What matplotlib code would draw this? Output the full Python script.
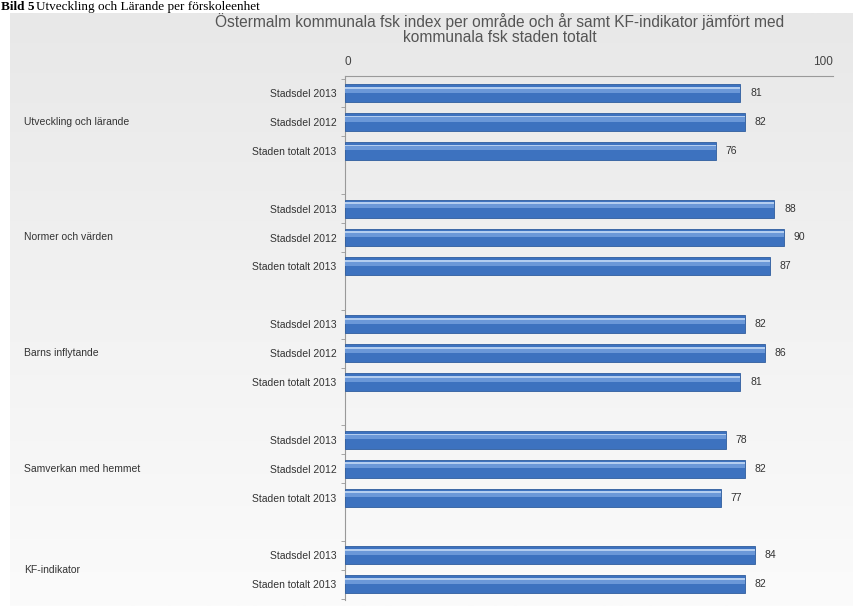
import matplotlib
matplotlib.use("Agg")
import matplotlib.pyplot as plt
import matplotlib.transforms as mtransforms
from matplotlib.colors import LinearSegmentedColormap
import numpy as np

groups = ["Utveckling och lärande", "Normer och värden", "Barns inflytande",
          "Samverkan med hemmet", "KF-indikator"]
group_series = [
    ["Stadsdel 2013", "Stadsdel 2012", "Staden totalt 2013"],
    ["Stadsdel 2013", "Stadsdel 2012", "Staden totalt 2013"],
    ["Stadsdel 2013", "Stadsdel 2012", "Staden totalt 2013"],
    ["Stadsdel 2013", "Stadsdel 2012", "Staden totalt 2013"],
    ["Stadsdel 2013", "Staden totalt 2013"],
]
group_values = [
    [81, 82, 76],
    [88, 90, 87],
    [82, 86, 81],
    [78, 82, 77],
    [84, 82],
]
title = ("Östermalm kommunala fsk index per område och år samt KF-indikator jämfört med\n"
         "kommunala fsk staden totalt")
x_ticks = [0, 100]

W, H = 854, 606
fig = plt.figure(figsize=(W / 100, H / 100), dpi=100)
fig.patch.set_facecolor("white")

# background panel with gentle gradient
bg = fig.add_axes([10 / W, 0, 1 - 10 / W, 1 - 13 / H], zorder=-5)
grad = np.linspace(0, 1, 256).reshape(-1, 1)
cm = LinearSegmentedColormap.from_list("bg", ["#e8e8e8", "#f2f2f2", "#fbfbfb"])
bg.imshow(grad, aspect="auto", cmap=cm, extent=[0, 1, 0, 1], origin="upper")
bg.set_axis_off()

# caption
fig.text(1 / W, 1 - 10 / H, "Bild 5", fontsize=9.5, family="Liberation Serif",
         weight="bold", va="baseline", ha="left")
fig.text(36 / W, 1 - 10 / H, "Utveckling och Lärande per förskoleenhet", fontsize=9.5,
         family="Liberation Serif", va="baseline", ha="left")

fig.text(500 / W, 1 - 29 / H, title, fontsize=11.2, color="#555555", ha="center",
         va="center", family="Liberation Sans", linespacing=1.05)

# positions
positions, labels, values = [], [], []
group_centers = []
pos = 0
for gs, gv in zip(group_series, group_values):
    start = pos
    for s, v in zip(gs, gv):
        positions.append(pos)
        labels.append(s)
        values.append(v)
        pos += 1
    group_centers.append((start + pos - 1) / 2)
    pos += 1
positions = np.array(positions, dtype=float)

ax_left, ax_right = 345 / W, 833 / W
ax_top, ax_bot = 1 - 76 / H, 1 - 600 / H
ax = fig.add_axes([ax_left, ax_bot, ax_right - ax_left, ax_top - ax_bot])
ax.set_facecolor("none")
slot = 28.9
ax.set_ylim((600 - 93) / slot, (76 - 93) / slot)
ax.set_xlim(0, 100)

bh = 0.62
ax.barh(positions, values, height=bh, color="#3d72bf", edgecolor="#2f5d9e",
        linewidth=0.6, zorder=3)
ax.barh(positions - bh * 0.17, values, height=bh * 0.3, color="#6b98d8",
        linewidth=0, zorder=4)
ax.barh(positions - bh * 0.3, values, height=bh * 0.1, color="#b3cdef",
        linewidth=0, zorder=5)

for p, v in zip(positions, values):
    ax.text(v + 2.0, p, str(v), fontsize=7.5, color="#333333", va="center", ha="left",
            family="Liberation Sans")

ax.xaxis.tick_top()
ax.set_xticks(x_ticks)
ax.set_xticklabels([str(t) for t in x_ticks], fontsize=8.5, color="#444444",
                   family="Liberation Sans")
for lab, ha in zip(ax.get_xticklabels(), ["left", "right"]):
    lab.set_ha(ha)
ax.tick_params(axis="x", length=0, pad=6)

ax.set_yticks(positions)
ax.set_yticklabels(labels, fontsize=7.5, color="#333333", family="Liberation Sans")
ax.tick_params(axis="y", length=0, pad=6)
minor = np.concatenate([positions - 0.5, [positions[-1] + 0.5]])
ax.set_yticks(minor, minor=True)
ax.tick_params(axis="y", which="minor", length=3, color="#999999", direction="out")

for s in ["right", "bottom"]:
    ax.spines[s].set_visible(False)
ax.spines["left"].set_color("#999999")
ax.spines["left"].set_linewidth(0.8)
ax.spines["top"].set_color("#9a9a9a")
ax.spines["top"].set_linewidth(0.8)

trans = mtransforms.blended_transform_factory(fig.transFigure, ax.transData)
for g, c in zip(groups, group_centers):
    ax.text(24 / W, c, g, transform=trans, fontsize=7.5, color="#333333",
            va="center", ha="left", family="Liberation Sans")

fig.savefig("out.png", dpi=100)
